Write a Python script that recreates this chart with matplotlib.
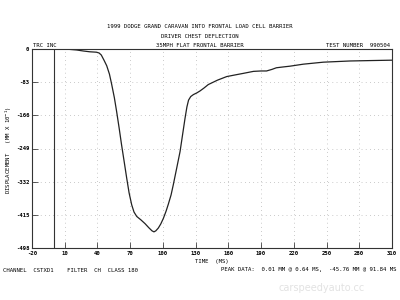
import numpy as np
import matplotlib.pyplot as plt

# chest deflection trace (time in ms, displacement in mm x 10^-1)
time_ms = [0, 10, 21, 27, 33, 39, 41.5, 43.5, 46, 48.5, 51, 53, 55.5, 57.6, 60, 62,
           64.5, 66.8, 69, 71.4, 73.5, 76, 80, 83.6, 87, 90, 91.8, 93.5, 95.8, 98,
           100.4, 103, 105, 107.5, 109.5, 112.5, 115.7, 118, 120.3, 122, 123.5, 125.5,
           128, 131, 134, 137.5, 141.6, 150, 158.5, 166, 173.7, 183, 190, 195, 200,
           204, 210, 216.5, 228.7, 247, 271.5, 290, 310]
disp = [0, 0, -2.5, -5, -7, -8, -10, -15, -28, -42, -63, -88, -122, -157, -200, -238,
        -282, -323, -360, -390, -408, -419, -428, -437, -447, -455, -457.6, -455, -448, -438,
        -424, -405, -388, -365, -340, -300, -257, -215, -173, -145, -128, -119,
        -114, -110, -105, -98, -89, -78, -69, -65, -61, -56, -55, -55, -51,
        -47, -45, -43, -38, -33, -30, -29, -28]

x_ticks = [-20, 10, 40, 70, 100, 130, 160, 190, 220, 250, 280, 310]
y_ticks = [0, -83, -166, -249, -332, -415, -498]

mono = 'DejaVu Sans Mono'
fs = 4.1

fig = plt.figure(figsize=(4, 3), dpi=100)
ax = fig.add_axes([0.08, 0.1733, 0.90, 0.6634])

# dotted grid
for xv in x_ticks[1:-1]:
    ax.axvline(xv, color='#9a9a9a', lw=0.5, ls=(0, (1, 5)))
for yv in y_ticks[1:-1]:
    ax.axhline(yv, color='#9a9a9a', lw=0.5, ls=(0, (1, 5)))

ax.axvline(0, color='#333333', lw=0.8)
ax.plot(time_ms, disp, color='#222222', lw=0.9)

ax.set_xlim(-20, 310)
ax.set_ylim(-498, 0)
ax.set_xticks(x_ticks)
ax.set_yticks(y_ticks)
ax.set_xticklabels([str(v) for v in x_ticks], fontfamily=mono, fontsize=fs, fontweight='bold')
ax.set_yticklabels([str(v) for v in y_ticks], fontfamily=mono, fontsize=fs, fontweight='bold')
ax.tick_params(direction='in', length=4, width=0.6, pad=2, color='#333333')
for s in ax.spines.values():
    s.set_linewidth(0.8)
    s.set_color('#333333')

ax.set_xlabel('TIME  (MS)', fontfamily=mono, fontsize=fs, labelpad=2)
fig.text(0.022, 0.5, 'DISPLACEMENT   (MM X 10$^{-1}$)', rotation=90, ha='center', va='center',
         fontfamily=mono, fontsize=fs)

# header lines
fig.text(0.5, 0.905, '1999 DODGE GRAND CARAVAN INTO FRONTAL LOAD CELL BARRIER',
         ha='center', fontfamily=mono, fontsize=fs)
fig.text(0.5, 0.872, 'DRIVER CHEST DEFLECTION', ha='center', fontfamily=mono, fontsize=fs)
fig.text(0.5, 0.843, '35MPH FLAT FRONTAL BARRIER', ha='center', fontfamily=mono, fontsize=fs)
fig.text(0.083, 0.843, 'TRC INC', ha='left', fontfamily=mono, fontsize=fs)
fig.text(0.975, 0.843, 'TEST NUMBER  990504', ha='right', fontfamily=mono, fontsize=fs)

# footer
fig.text(0.008, 0.095, 'CHANNEL  CSTXD1    FILTER  CH  CLASS 180', ha='left',
         fontfamily=mono, fontsize=fs)
fig.text(0.992, 0.095, 'PEAK DATA:  0.01 MM @ 0.64 MS,  -45.76 MM @ 91.84 MS', ha='right',
         fontfamily=mono, fontsize=fs)
fig.text(0.805, 0.03, 'carspeedyauto.cc', ha='center', color='#e2e2e2', fontsize=7)

fig.savefig('out.png', dpi=100)
